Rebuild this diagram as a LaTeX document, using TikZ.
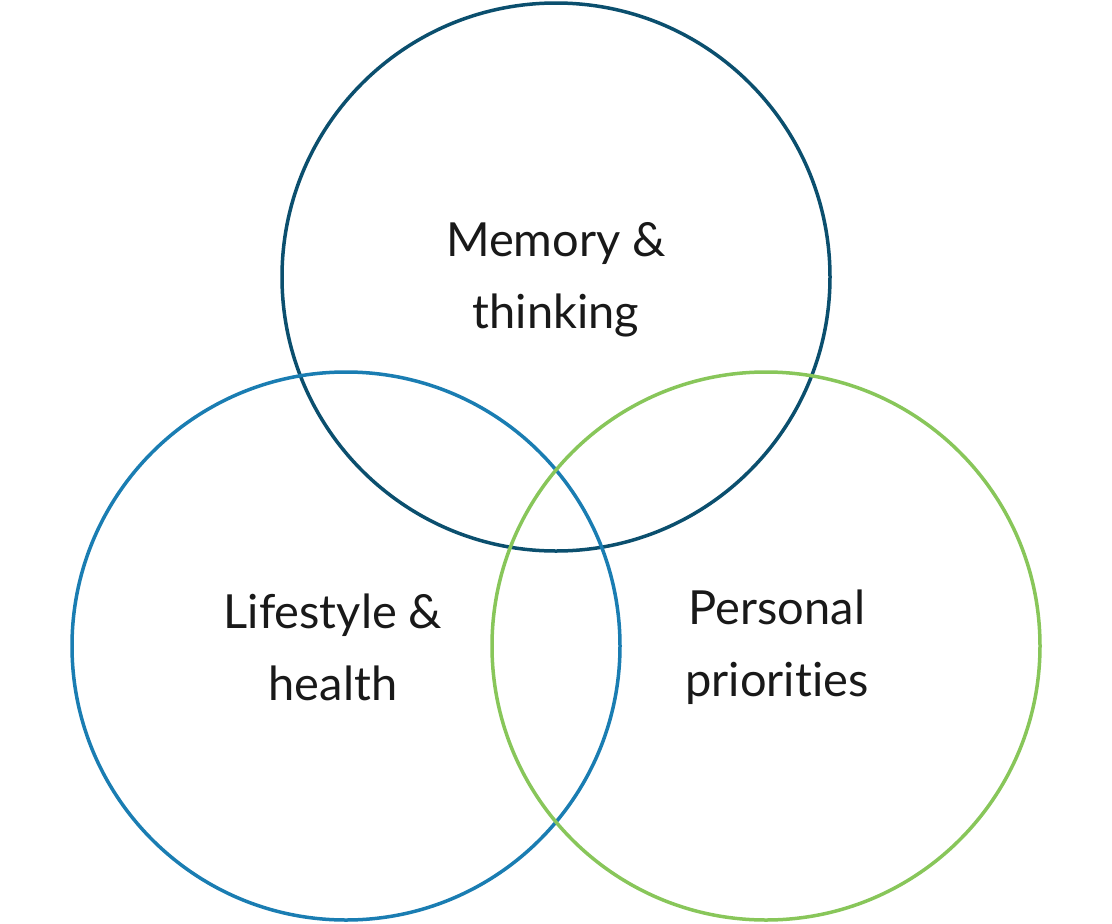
\documentclass[tikz,border=0pt]{standalone}
\usepackage{fontspec}
\setmainfont[RawFeature={-liga}]{Lato}
\begin{document}
\begin{tikzpicture}[x=1pt,y=-1pt,
  ring/.style={line width=3.5pt},
  lbl/.style={align=center,font=\fontsize{47}{72}\selectfont,text=black!90}]
\useasboundingbox (0,0) rectangle (1112,924);
\definecolor{cTop}{HTML}{0B4F6E}
\definecolor{cLeft}{HTML}{1A7DB2}
\definecolor{cRight}{HTML}{88C65A}
\node[ring,draw=cTop,circle,minimum size=548pt,inner sep=0pt] (top) at (556,277) {};
\node[ring,draw=cLeft,circle,minimum size=548pt,inner sep=0pt] (left) at (346,646) {};
\node[ring,draw=cRight,circle,minimum size=548pt,inner sep=0pt] (right) at (766,646) {};
\node[lbl] (t1) at (556,280) {Memory \&\\thinking};
\node[lbl] (t2) at (333,647) {Lifestyle \&\\health};
\node[lbl] (t3) at (777,647) {Personal\\priorities};
\end{tikzpicture}
\end{document}
